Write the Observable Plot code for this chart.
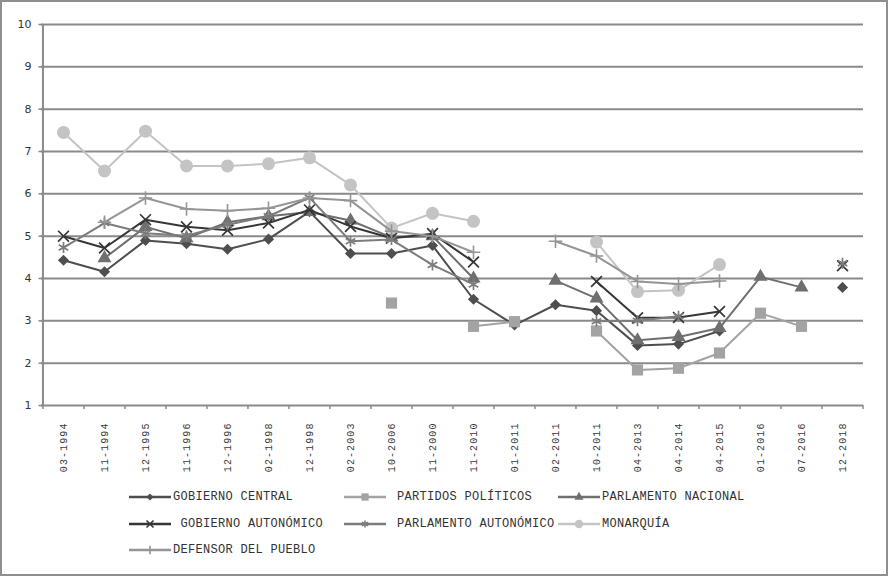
<!DOCTYPE html>
<html><head><meta charset="utf-8">
<script src="https://cdn.jsdelivr.net/npm/d3@7"></script>
<script src="https://cdn.jsdelivr.net/npm/@observablehq/plot@0.6"></script>
<style>
body{margin:0;background:#fff;}
#chart{position:absolute;left:0;top:0;}
#border{position:absolute;left:0;top:0;width:888px;height:576px;box-sizing:border-box;border:2px solid #8e8e8e;pointer-events:none;}
.lg{position:absolute;height:14px;display:flex;align-items:center;font-family:"Liberation Mono",monospace;font-size:12px;letter-spacing:0.3px;color:#333;white-space:pre;}
.lg svg{display:block;}
</style></head>
<body>
<div id="chart"></div>
<div id="legend"></div>
<div id="border"></div>
<script>
const categories = ["03-1994","11-1994","12-1995","11-1996","12-1996","02-1998","12-1998","02-2003","10-2006","11-2000","11-2010","01-2011","02-2011","10-2011","04-2013","04-2014","04-2015","01-2016","07-2016","12-2018"];
const yTicks = [1,2,3,4,5,6,7,8,9,10];

const gobiernoCentral     = [4.43,4.16,4.90,4.82,4.69,4.93,5.58,4.59,4.59,4.78,3.51,2.90,3.38,3.24,2.42,2.45,2.76,null,null,3.79];
const partidosPoliticos   = [null,null,null,null,null,null,null,null,3.42,null,2.87,2.98,null,2.76,1.84,1.88,2.24,3.18,2.87,null];
const parlamentoNacional  = [null,4.48,5.22,4.95,5.33,5.47,5.57,5.37,4.97,5.00,4.00,null,3.95,3.53,2.54,2.62,2.83,4.04,3.79,null];
const gobiernoAutonomico  = [5.00,4.72,5.39,5.22,5.14,5.31,5.62,5.23,4.95,5.06,4.39,null,null,3.93,3.07,3.08,3.22,null,null,4.30];
const parlamentoAutonomico= [4.73,5.31,5.07,5.01,5.27,5.47,5.91,4.88,4.92,4.32,3.86,null,null,2.99,3.00,3.11,null,null,null,4.36];
const monarquia           = [7.45,6.54,7.48,6.66,6.66,6.71,6.85,6.21,5.19,5.54,5.35,null,null,4.86,3.69,3.72,4.33,null,null,null];
const defensorPueblo      = [null,5.33,5.90,5.64,5.60,5.66,5.90,5.84,5.12,5.00,4.62,null,4.88,4.53,3.93,3.87,3.94,null,null,null];

const series = [
  {name:"GOBIERNO CENTRAL", values:gobiernoCentral, color:"#4e4e4e", symbol:"diamond2", r:5, filled:true, sw:0},
  {name:"PARTIDOS POLÍTICOS", values:partidosPoliticos, color:"#a3a3a3", symbol:"square", r:6.3, filled:true, sw:0},
  {name:"PARLAMENTO NACIONAL", values:parlamentoNacional, color:"#6f6f6f", symbol:"triangle", r:5.2, filled:true, sw:0},
  {name:" GOBIERNO AUTONÓMICO", values:gobiernoAutonomico, color:"#363636", symbol:"times", r:5, filled:false, sw:1.7},
  {name:"PARLAMENTO AUTONÓMICO", values:parlamentoAutonomico, color:"#7c7c7c", symbol:"asterisk", r:5.2, filled:false, sw:1.7},
  {name:"MONARQUÍA", values:monarquia, color:"#c4c4c4", symbol:"circle", r:6.5, filled:true, sw:0},
  {name:"DEFENSOR DEL PUEBLO", values:defensorPueblo, color:"#959595", symbol:"plus", r:4.4, filled:false, sw:1.6}
];

const W = 888, H = 480, mL = 41, mR = 25, mT = 24, mB = 75;
const step = (W - mL - mR) / categories.length;
const first = categories[0], last = categories[categories.length - 1];

const marks = [
  Plot.ruleY(yTicks.slice(1), {y: d => d, stroke:"#8a8a8a", strokeWidth:2}),
  Plot.ruleY([yTicks[0]], {y: d => d, stroke:"#8a8a8a", strokeWidth:2}),
  Plot.ruleX([first], {x: d => d, dx: -step/2, y1: () => yTicks[0], y2: () => yTicks[yTicks.length-1], stroke:"#8a8a8a", strokeWidth:2}),
  Plot.ruleX(categories, {x: d => d, dx: -step/2, y1: () => yTicks[0], y2: () => yTicks[0], insetBottom: -4, stroke:"#8a8a8a", strokeWidth:1.5}),
  Plot.ruleX([last], {x: d => d, dx: step/2, y1: () => yTicks[0], y2: () => yTicks[0], insetBottom: -4, stroke:"#8a8a8a", strokeWidth:1.5}),
  Plot.ruleY(yTicks, {y: d => d, x1: () => first, x2: () => first, dx: -step/2, insetLeft: -4, stroke:"#8a8a8a", strokeWidth:1.5}),
  Plot.text(yTicks, {y: d => d, frameAnchor:"left", text: d => String(d), dx: -10, textAnchor:"end", fontSize:11, fill:"#333", fontFamily:"DejaVu Sans"}),
  Plot.text(categories, {x: d => d, frameAnchor:"bottom", dy: 17, rotate:-90, textAnchor:"end", lineAnchor:"middle", text: d => d, fontSize:10, fill:"#3a3a3a", fontFamily:"Liberation Mono"})
];

for (const s of series) {
  const rows = categories.map((c, i) => ({cat: c, v: s.values[i] == null ? NaN : s.values[i]}));
  marks.push(Plot.line(rows, {x:"cat", y:"v", stroke:s.color, strokeWidth:2}));
  marks.push(Plot.dot(rows, {x:"cat", y:"v", symbol:s.symbol, r:s.r,
    fill: s.filled ? s.color : "none", stroke: s.filled ? "none" : s.color, strokeWidth: s.sw}));
}

const chart = Plot.plot({
  width: W, height: H,
  marginLeft: mL, marginRight: mR, marginTop: mT, marginBottom: mB,
  x: {type:"point", domain: categories, padding: 0.5, axis: null},
  y: {domain:[1,10], axis: null},
  style: {background:"white", overflow:"visible"},
  marks
});
chart.querySelectorAll("g[font-family='Liberation Mono']").forEach(g => g.setAttribute("letter-spacing","1.1"));
document.getElementById("chart").appendChild(chart);

// legend
const legendPos = [
  {x:129, y:497, tx:173}, {x:344, y:497, tx:397}, {x:558, y:497, tx:602},
  {x:129, y:524, tx:173}, {x:344, y:524, tx:397}, {x:558, y:524, tx:602},
  {x:129, y:550, tx:173}
];
const symMap = {diamond2:d3.symbolDiamond2, square:d3.symbolSquare, triangle:d3.symbolTriangle, times:d3.symbolTimes, asterisk:d3.symbolAsterisk, circle:d3.symbolCircle, plus:d3.symbolPlus};
const leg = document.getElementById("legend");
series.forEach((s, i) => {
  const p = legendPos[i];
  const div = document.createElement("div");
  div.className = "lg";
  div.style.left = p.x + "px";
  div.style.top = (p.y - 7) + "px";
  const lw = 42;
  const r = s.r * 0.65;
  const path = d3.symbol(symMap[s.symbol], Math.PI * r * r)();
  const svg = `<svg width="${p.tx - p.x}" height="14"><line x1="0" x2="${lw}" y1="7" y2="7" stroke="${s.color}" stroke-width="2.5"/><path transform="translate(${lw/2},7)" d="${path}" fill="${s.filled ? s.color : 'none'}" stroke="${s.filled ? 'none' : s.color}" stroke-width="1.6"/></svg>`;
  div.innerHTML = svg + `<span>${s.name}</span>`;
  leg.appendChild(div);
});
</script>
</body></html>
